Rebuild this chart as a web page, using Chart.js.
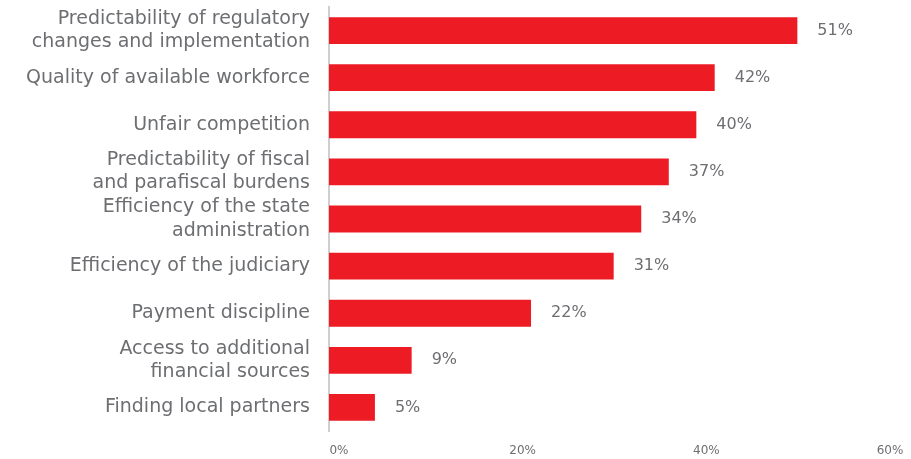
<!DOCTYPE html>
<html>
<head>
<meta charset="utf-8">
<script src="https://cdn.jsdelivr.net/npm/chart.js@4.4.1/dist/chart.umd.min.js"></script>
<style>
  html, body { margin: 0; padding: 0; background: #ffffff; }
  #wrap { width: 911px; height: 459px; position: relative; }
</style>
</head>
<body>
<div id="wrap"><canvas id="obstacles"></canvas></div>
<script>
// categories, top to bottom
var categories = [
  ['Predictability of regulatory', 'changes and implementation'],
  'Quality of available workforce',
  'Unfair competition',
  ['Predictability of fiscal', 'and parafiscal burdens'],
  ['Efficiency of the state', 'administration'],
  'Efficiency of the judiciary',
  'Payment discipline',
  ['Access to additional', 'financial sources'],
  'Finding local partners'
];
// share of respondents, %
var shares = [51, 42, 40, 37, 34, 31, 22, 9, 5];
var axisTicks = [0, 20, 40, 60];

var RED = '#ed1c24';
var GREY = '#6d6e71';
var FONT = "'DejaVu Sans', sans-serif";

// prints the percentage just right of every bar
var valueLabels = {
  id: 'valueLabels',
  afterDatasetsDraw: function (chart) {
    var ctx = chart.ctx;
    var meta = chart.getDatasetMeta(0);
    ctx.save();
    ctx.fillStyle = GREY;
    ctx.font = '16px ' + FONT;
    ctx.textAlign = 'left';
    ctx.textBaseline = 'middle';
    meta.data.forEach(function (bar, i) {
      ctx.fillText(shares[i] + '%', bar.x + 20, bar.y);
    });
    ctx.restore();
  }
};

new Chart(document.getElementById('obstacles'), {
  type: 'bar',
  data: {
    labels: categories,
    datasets: [{
      data: shares,
      backgroundColor: RED,
      borderWidth: 0,
      barPercentage: 0.6,
      categoryPercentage: 0.95
    }]
  },
  options: {
    indexAxis: 'y',
    responsive: true,
    maintainAspectRatio: false,
    animation: false,
    layout: { padding: { top: 7, right: 31, bottom: 1, left: 0 } },
    plugins: {
      legend: { display: false },
      tooltip: { enabled: false }
    },
    scales: {
      x: {
        min: 0,
        max: 60,
        afterBuildTicks: function (scale) {
          scale.ticks = axisTicks.map(function (v) { return { value: v }; });
        },
        afterFit: function (scale) { scale.height = 27; },
        grid: { display: false, drawTicks: false },
        border: { display: false },
        ticks: {
          padding: 13,
          labelOffset: 10,
          color: GREY,
          font: { family: FONT, size: 12 },
          callback: function (v) { return v + '%'; }
        }
      },
      y: {
        afterFit: function (scale) {
          // fixed label column; the two-line labels must not push the plot down
          scale.width = 329;
          scale.paddingTop = 0;
          scale.paddingBottom = 0;
        },
        grid: { display: false, drawTicks: false },
        border: { display: true, color: '#cfcfcf', width: 2 },
        ticks: {
          autoSkip: false,
          padding: 19,
          color: GREY,
          font: { family: FONT, size: 19, lineHeight: 1.22 }
        }
      }
    }
  },
  plugins: [valueLabels]
});
</script>
</body>
</html>
